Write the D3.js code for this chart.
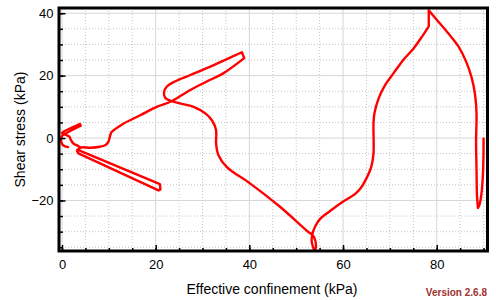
<!DOCTYPE html>
<html><head><meta charset="utf-8">
<script src="https://cdn.jsdelivr.net/npm/d3@7/dist/d3.min.js"></script>
<style>body{margin:0;background:#fff}svg{display:block}</style>
</head><body>
<svg id="c" width="496" height="300"></svg>
<script>
// Stress path (effective confinement, shear stress) in kPa
const confinement = [90.0, 89.9, 89.5, 89.1, 88.8, 88.6, 88.5, 88.4, 88.5, 88.2, 87.5, 86.3, 84.7, 82.5, 80.4, 78.3,
  78.3, 76.9, 75.1, 72.9, 70.8, 69.0, 67.6, 66.7, 66.5, 66.5, 66.0, 65.1, 63.7, 62.6, 59.8, 57.3, 55.1, 54.1, 53.5,
  53.3, 53.8, 54.1, 54.1, 53.6, 52.6, 46.6, 40.2, 35.2, 33.4, 32.9, 32.9, 32.0, 30.6, 28.1, 25.2, 23.4,
  22.0, 21.8, 22.4, 24.1, 27.4, 30.9, 34.5, 38.4, 38.9, 34.5, 30.9, 27.4, 23.4, 20.2, 16.7, 13.1, 10.6, 10.3, 9.9,
  9.2, 8.1, 6.0, 4.2, 3.4, 20.9, 21.0, 20.6, 3.5, 3.2, 3.8, 2.4, 1.9, 1.6, 1.0, 0.0, 0.4, 3.8, 4.0, 0.5, -0.1, -0.1,
  0.3, 1.3];
const shear = [-0.2, -10.4, -18.5, -21.5, -22.4, -18.5, -10.4, -0.7, 7.8, 13.7, 19.1, 24.4, 29.2, 33.5, 37.2, 40.9,
  35.8, 32.6, 28.8, 25.1, 20.8, 17.0, 12.7, 7.9, 4.6, -5.0, -9.4, -12.6, -16.2, -17.9, -20.6, -23.3, -25.9, -28.2, -30.5,
  -33.0, -35.8, -35.5, -33.0, -31.2, -30.1, -22.1, -14.6, -9.3, -5.5, -1.8, 2.5, 5.7, 7.9, 10.0, 11.1, 11.8,
  13.0, 14.8, 16.5, 18.1, 20.2, 22.4, 24.8, 27.5, 25.6, 20.8, 18.1, 15.4, 11.8, 10.0, 7.3, 4.6, 1.9, 0.9, -1.2,
  -2.3, -2.8, -3.1, -3.0, -3.8, -14.8, -16.5, -16.8, -4.9, -4.0, -3.0, -1.7, -0.6, 0.4, 0.9, 1.6, 2.1, 4.5, 4.0, 1.2, 0.4, -1.5,
  -2.4, -2.9];
// indices of sharp turning points of the path
const turningPoints = [0, 4, 15, 16, 36, 59, 60, 75, 76, 77, 78, 79, 86, 88, 89, 94];

const xMajorTicks = [0, 20, 40, 60, 80];
const xMinorTicks = [0, 5, 10, 15, 20, 25, 30, 35, 40, 45, 50, 55, 60, 65, 70, 75, 80, 85, 90];
const yMajorTicks = [-20, 0, 20, 40];
const yMinorTicks = [-35, -30, -25, -20, -15, -10, -5, 0, 5, 10, 15, 20, 25, 30, 35, 40];
const xTitle = "Effective confinement (kPa)";
const yTitle = "Shear stress (kPa)";
const versionText = "Version 2.6.8";

const L = 59, R = 487.5, T = 8, B = 251;
const svg = d3.select("#c");
const x = d3.scaleLinear().domain([-0.64, 90.84]).range([L, R]);
const y = d3.scaleLinear().domain([-36.2, 41.67]).range([B, T]);
const font = "Arial, 'Liberation Sans', sans-serif";

const grid = svg.append("g");
grid.selectAll(".vx").data(xMinorTicks.filter(d => !xMajorTicks.includes(d))).join("line")
  .attr("x1", d => x(d)).attr("x2", d => x(d)).attr("y1", T).attr("y2", B)
  .attr("stroke", "#c4c4c4").attr("stroke-dasharray", "1,2");
grid.selectAll(".hy").data(yMinorTicks.filter(d => !yMajorTicks.includes(d))).join("line")
  .attr("y1", d => y(d)).attr("y2", d => y(d)).attr("x1", L).attr("x2", R)
  .attr("stroke", "#c4c4c4").attr("stroke-dasharray", "1,2");
grid.selectAll(".vX").data(xMajorTicks).join("line")
  .attr("x1", d => x(d)).attr("x2", d => x(d)).attr("y1", T).attr("y2", B)
  .attr("stroke", "#d6d6d6");
grid.selectAll(".hY").data(yMajorTicks).join("line")
  .attr("y1", d => y(d)).attr("y2", d => y(d)).attr("x1", L).attr("x2", R)
  .attr("stroke", "#d6d6d6");

// curve: smooth between turning points, sharp at turning points
const pts = confinement.map((c, i) => [c, shear[i]]);
const line = d3.line().x(d => x(d[0])).y(d => y(d[1])).curve(d3.curveCatmullRom.alpha(0.5));
let dStr = "";
for (let k = 0; k < turningPoints.length - 1; k++) {
  dStr += line(pts.slice(turningPoints[k], turningPoints[k + 1] + 1));
}
svg.append("path").attr("d", dStr).attr("fill", "none").attr("stroke", "#ff0000")
  .attr("stroke-width", 2.4).attr("stroke-linejoin", "round").attr("stroke-linecap", "round");

// axes
function style(g) {
  g.select(".domain").remove();
  g.selectAll(".tick line").attr("stroke", "#000").attr("stroke-width", 1.5);
  g.selectAll("text").attr("font-family", font).attr("font-size", 13).attr("fill", "#000");
}
svg.append("g").attr("transform", `translate(0,${B})`)
  .call(d3.axisBottom(x).tickValues(xMinorTicks).tickSize(-3).tickFormat(""))
  .call(style);
svg.append("g").attr("transform", `translate(0,${B})`)
  .call(d3.axisBottom(x).tickValues(xMajorTicks).tickSize(-6).tickPadding(8.5).tickFormat(d3.format("d")))
  .call(style);
svg.append("g").attr("transform", `translate(${L},0)`)
  .call(d3.axisLeft(y).tickValues(yMinorTicks).tickSize(-4).tickFormat(""))
  .call(style);
svg.append("g").attr("transform", `translate(${L},0)`)
  .call(d3.axisLeft(y).tickValues(yMajorTicks).tickSize(-6.5).tickPadding(5.5).tickFormat(d3.format("d")))
  .call(style);

svg.append("rect").attr("x", L).attr("y", T).attr("width", R - L).attr("height", B - T)
  .attr("fill", "none").attr("stroke", "#000").attr("stroke-width", 3);

svg.append("text").attr("x", 272).attr("y", 294).attr("text-anchor", "middle")
  .attr("font-family", font).attr("font-size", 14).attr("fill", "#000").text(xTitle);
svg.append("text").attr("transform", `translate(25,${(T + B) / 2}) rotate(-90)`).attr("text-anchor", "middle")
  .attr("font-family", font).attr("font-size", 14).attr("fill", "#000").text(yTitle);
svg.append("text").attr("x", 487).attr("y", 295.5).attr("text-anchor", "end")
  .attr("font-family", font).attr("font-size", 10).attr("font-weight", "bold").attr("fill", "#a0302f").text(versionText);
</script>
</body></html>
